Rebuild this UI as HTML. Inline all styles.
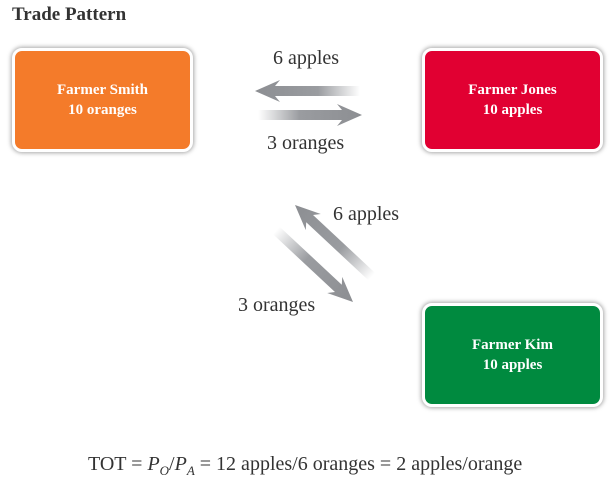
<!DOCTYPE html>
<html><head><style>
body{margin:0;width:616px;height:479px;background:#fff;position:relative;font-family:"Liberation Serif","DejaVu Serif","Times New Roman",serif;overflow:hidden}
.t{position:absolute;color:#333;font-size:20px;white-space:nowrap;font-family:"Liberation Serif","DejaVu Serif",serif}
.box{position:absolute;border:3px solid #fff;border-radius:10px;box-shadow:0 0 4px 1px rgba(0,0,0,.35);color:#fff;font-weight:bold;font-size:15px;text-align:center;display:flex;align-items:center;justify-content:center;line-height:20px;box-sizing:border-box;font-family:"Liberation Serif","DejaVu Serif",serif}
</style></head><body>
<div class="t" style="left:12px;top:4px;font-weight:bold;font-size:19px">Trade Pattern</div>
<div class="box" style="left:12px;top:48px;width:181px;height:104px;background:#f47b2a">Farmer Smith<br>10 oranges</div>
<div class="box" style="left:422px;top:48px;width:181px;height:104px;background:#e10032">Farmer Jones<br>10 apples</div>
<div class="box" style="left:422px;top:303px;width:181px;height:104px;background:#008a3f">Farmer Kim<br>10 apples</div>
<svg width="616" height="479" style="position:absolute;left:0;top:0">
<defs>
<linearGradient id="gl" x1="0" x2="1"><stop offset="0" stop-color="#8c8e92"/><stop offset=".6" stop-color="#9a9ca0"/><stop offset="1" stop-color="#fff"/></linearGradient>
<linearGradient id="gr" x1="0" x2="1"><stop offset="0" stop-color="#fff"/><stop offset=".4" stop-color="#9a9ca0"/><stop offset="1" stop-color="#8c8e92"/></linearGradient>
</defs>
<polygon points="255,91 280,80 275,86 360,86 360,96 275,96 280,102" fill="url(#gl)"/>
<polygon points="362,115 337,104 342,110 258,110 258,120 342,120 337,126" fill="url(#gr)"/>
<g transform="translate(295,205) rotate(43)"><polygon points="0,0 25,-11 20,-5 105,-5 105,5 20,5 25,11" fill="url(#gl)"/></g>
<g transform="translate(353,302) rotate(223)"><polygon points="0,0 25,-11 20,-5 105,-5 105,5 20,5 25,11" fill="url(#gl)"/></g>
</svg>
<div class="t" style="left:273px;top:47px">6 apples</div>
<div class="t" style="left:267px;top:132px">3 oranges</div>
<div class="t" style="left:333px;top:203px">6 apples</div>
<div class="t" style="left:238px;top:294px">3 oranges</div>
<div class="t" style="left:88px;top:453px">TOT = <i>P<sub style="font-size:13px">O</sub></i>/<i>P<sub style="font-size:13px">A</sub></i> = 12 apples/6 oranges = 2 apples/orange</div>
</body></html>
